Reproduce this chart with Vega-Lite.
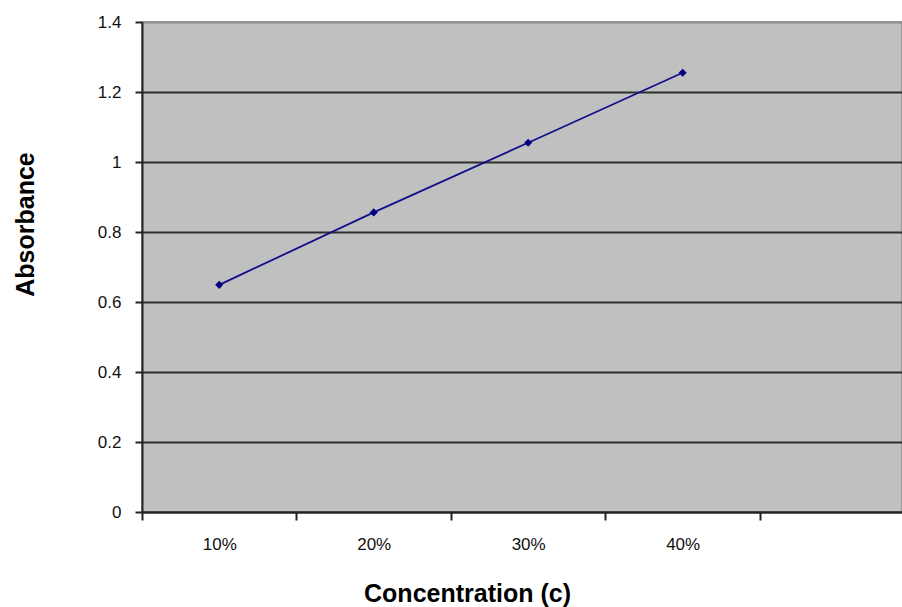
{
  "$schema": "https://vega.github.io/schema/vega-lite/v6.json",
  "width": 760,
  "height": 490,
  "autosize": {"type": "none"},
  "padding": {"left": 142, "top": 22, "right": 0, "bottom": 95},
  "background": "white",
  "config": {
    "view": {"fill": "#c0c0c0", "stroke": "#8c8c8c", "strokeWidth": 1.5},
    "font": "Liberation Sans"
  },
  "data": {
    "values": [
      {"concentration": "10%", "absorbance": 0.649},
      {"concentration": "20%", "absorbance": 0.856},
      {"concentration": "30%", "absorbance": 1.055},
      {"concentration": "40%", "absorbance": 1.255}
    ]
  },
  "encoding": {
    "x": {
      "field": "concentration",
      "type": "ordinal",
      "sort": null,
      "scale": {"type": "band", "domain": ["10%", "20%", "30%", "40%"], "paddingInner": 0, "paddingOuter": 0.46, "align": 0},
      "axis": {
        "title": "Concentration (c)",
        "titleFont": "Liberation Sans",
        "titleFontSize": 25,
        "titleFontWeight": "bold",
        "titleColor": "black",
        "titleAlign": "center",
        "titleBaseline": "alphabetic",
        "titleX": 325,
        "titleY": 89,
        "labelAngle": 0,
        "labelFontSize": 17,
        "labelColor": "#111",
        "labelPadding": 16,
        "tickBand": "extent",
        "tickSize": 8,
        "tickWidth": 2,
        "tickColor": "#222",
        "domainColor": "#222",
        "domainWidth": 2,
        "grid": false
      }
    },
    "y": {
      "field": "absorbance",
      "type": "quantitative",
      "scale": {"domain": [0, 1.4], "nice": false, "zero": true},
      "axis": {
        "title": "Absorbance",
        "titleFont": "Liberation Sans",
        "titleFontSize": 25,
        "titleFontWeight": "bold",
        "titleColor": "black",
        "titleAngle": -90,
        "titleAlign": "center",
        "titleBaseline": "alphabetic",
        "titleX": -109,
        "titleY": 202,
        "values": [0, 0.2, 0.4, 0.6, 0.8, 1, 1.2, 1.4],
        "format": "~g",
        "labelFontSize": 17,
        "labelColor": "#111",
        "labelPadding": 14,
        "tickSize": 7,
        "tickWidth": 2,
        "tickColor": "#222",
        "domainColor": "#222",
        "domainWidth": 2,
        "grid": true,
        "gridColor": {"condition": {"test": "datum.value >= 1.4", "value": "#8c8c8c"}, "value": "#2e2e2e"},
        "gridWidth": 2,
        "gridOpacity": 1
      }
    }
  },
  "layer": [
    {"mark": {"type": "line", "color": "#10108a", "strokeWidth": 1.8}},
    {"mark": {"type": "point", "shape": "diamond", "filled": true, "color": "#000080", "size": 65, "opacity": 1}}
  ]
}
